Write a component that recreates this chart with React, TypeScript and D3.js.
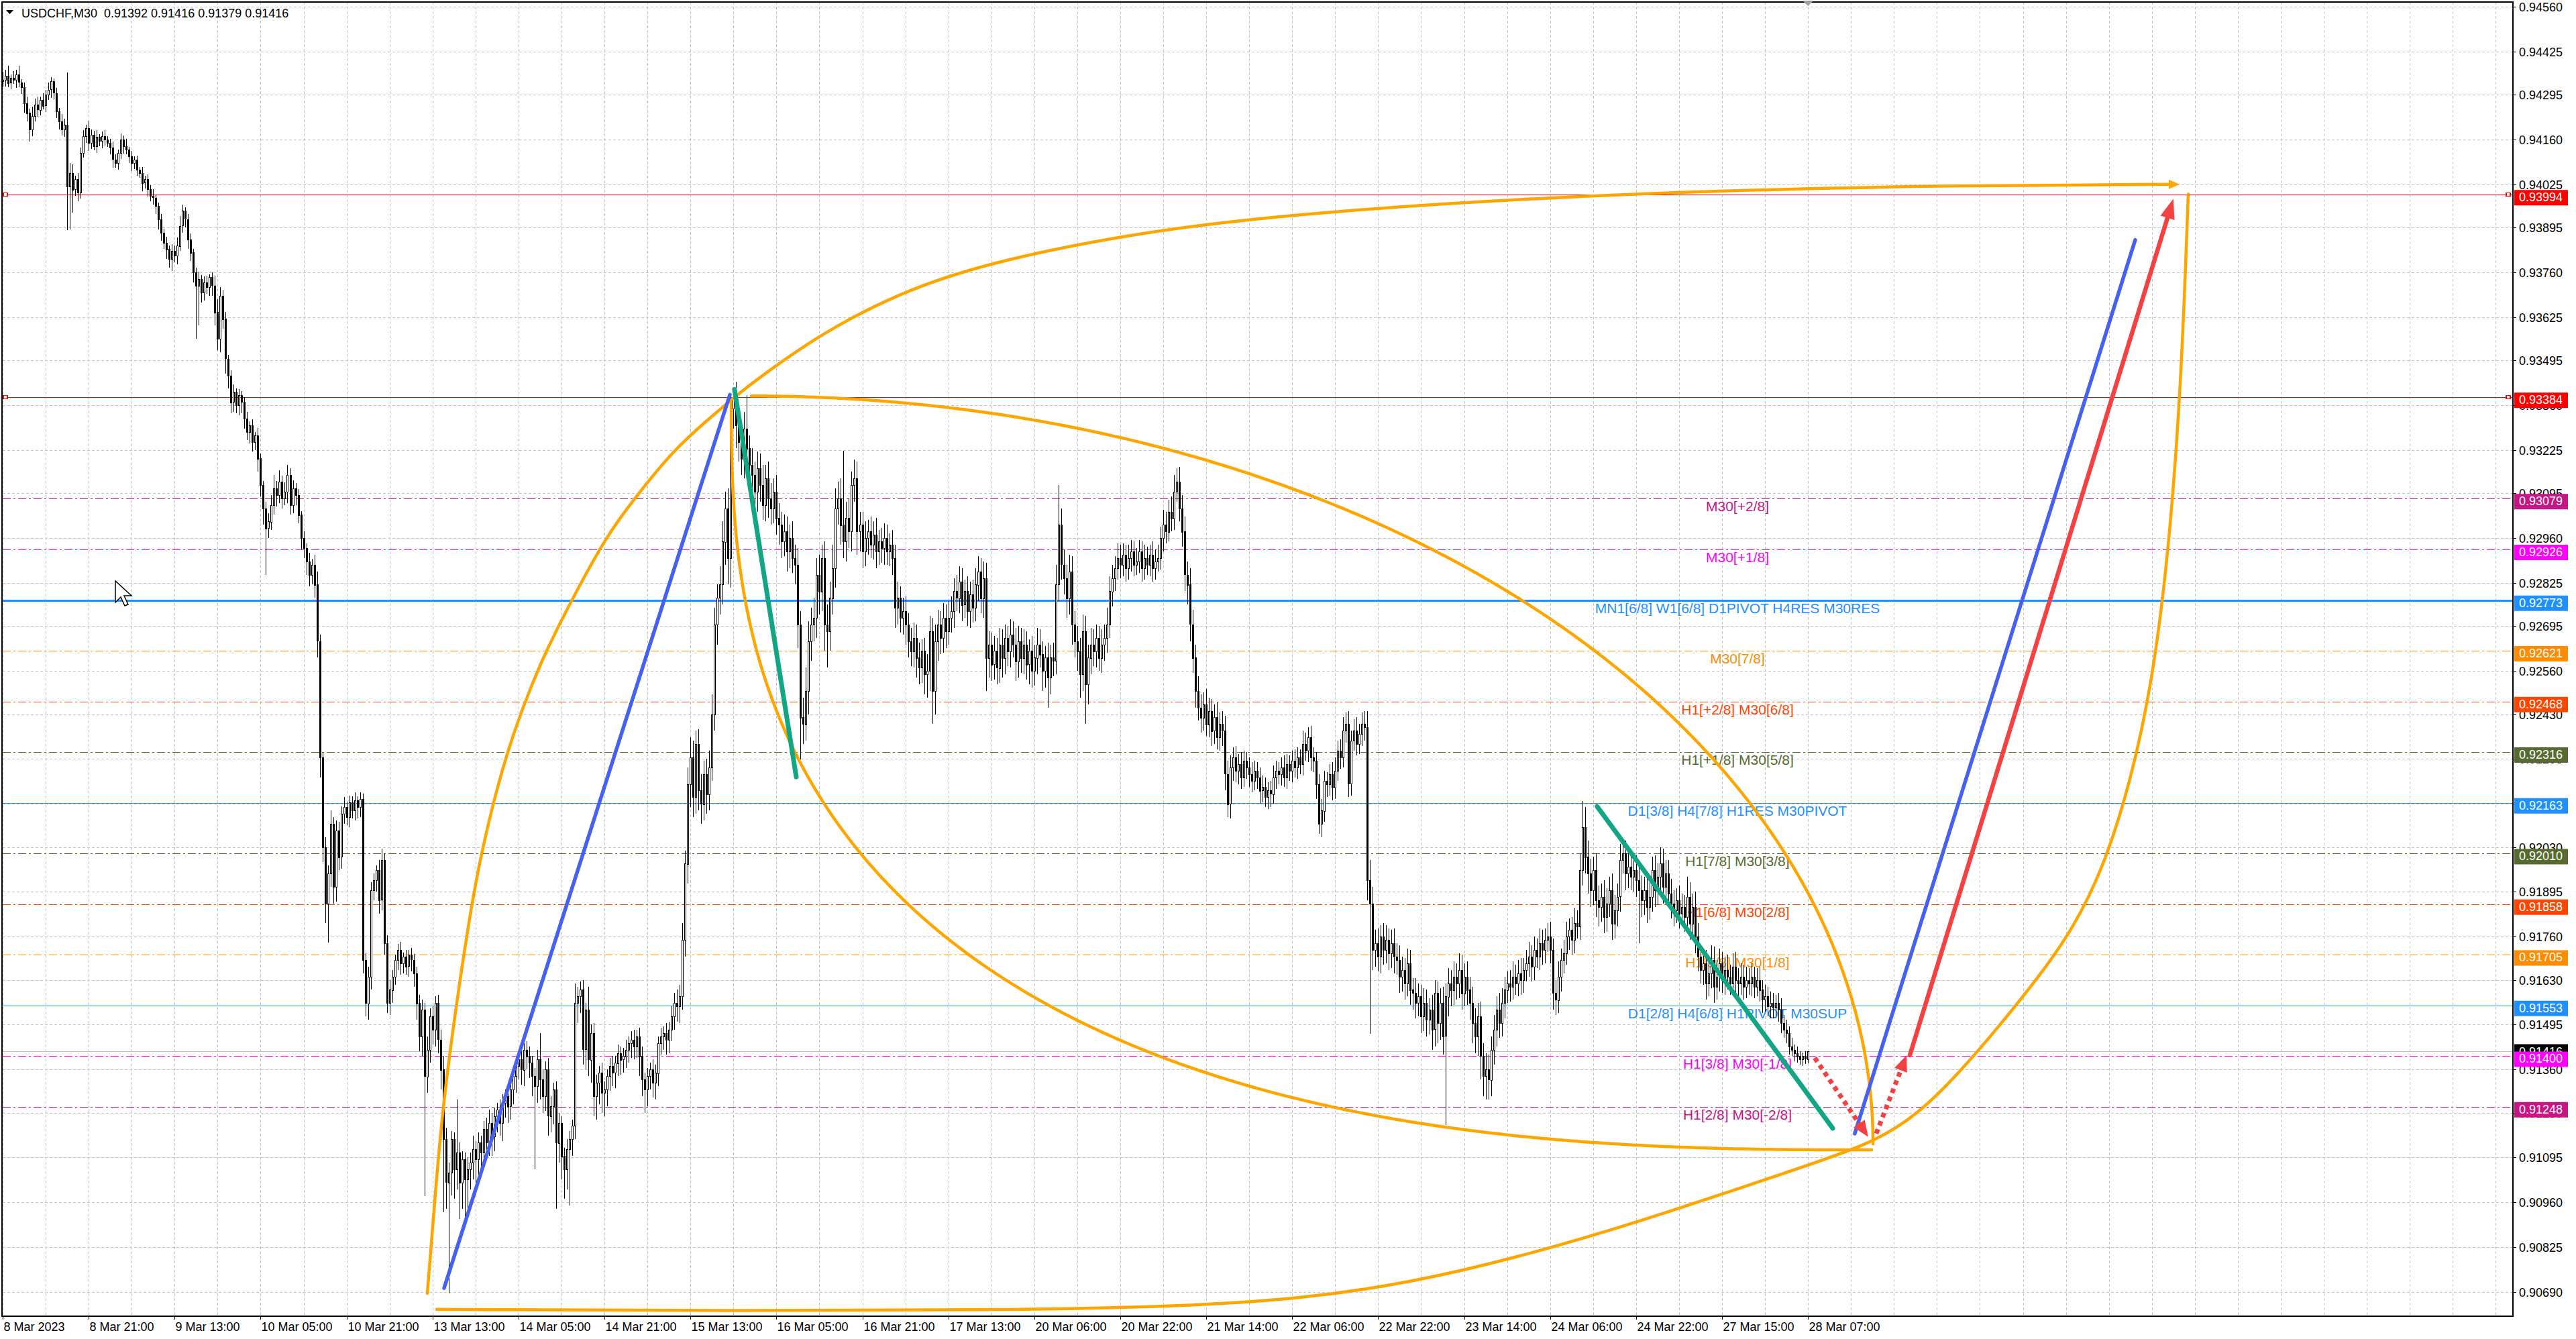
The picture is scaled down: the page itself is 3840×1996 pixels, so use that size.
import React from 'react';
import * as d3 from 'd3';

const WIDTH = 3840;
const HEIGHT = 1996;

// ---------- data ----------
const SYMBOL = 'USDCHF,M30';
const TIME_LABELS = ['8 Mar 2023','8 Mar 21:00','9 Mar 13:00','10 Mar 05:00','10 Mar 21:00','13 Mar 13:00','14 Mar 05:00','14 Mar 21:00','15 Mar 13:00','16 Mar 05:00','16 Mar 21:00','17 Mar 13:00','20 Mar 06:00','20 Mar 22:00','21 Mar 14:00','22 Mar 06:00','22 Mar 22:00','23 Mar 14:00','24 Mar 06:00','24 Mar 22:00','27 Mar 15:00','28 Mar 07:00'];
const BARS_PER_LABEL = 32;
const BARS_PER_GRID = 16;
const VISIBLE_BARS = 934.4;

const PRICE_TICKS = [0.9456,0.94425,0.94295,0.9416,0.94025,0.93895,0.9376,0.93625,0.93495,0.9336,0.93225,0.93095,0.9296,0.92825,0.92695,0.9256,0.9243,0.92295,0.9216,0.9203,0.91895,0.9176,0.9163,0.91495,0.9136,0.9123,0.91095,0.9096,0.90825,0.9069];

// closes in points above 0.90000 (1 point = 0.00001)
const FIRST_OPEN = 4335;
const CLOSE = [
4340,4352,4330,4345,4338,4355,4332,4318,4270,4240,
4190,4230,4265,4250,4280,4262,4295,4310,4335,4300,
4245,4215,4190,4205,4020,4060,4010,4040,4000,4120,
4170,4195,4150,4175,4140,4168,4155,4170,4160,4150,
4135,4100,4090,4120,4160,4140,4130,4110,4090,4100,
4070,4060,4030,4040,4010,3990,3985,3960,3920,3880,
3850,3830,3800,3825,3810,3840,3900,3945,3920,3860,
3820,3760,3720,3740,3700,3730,3715,3745,3720,3640,
3560,3690,3620,3500,3450,3370,3400,3360,3390,3370,
3320,3280,3300,3250,3270,3200,3120,3050,2990,3010,
3060,3110,3090,3130,3080,3100,3150,3060,3110,3090,
3030,2960,2930,2890,2850,2880,2820,2650,2300,2030,
1860,1950,2100,1910,2080,2000,2130,2150,2120,2165,
2140,2170,2150,2175,1690,1560,1640,1900,1930,1960,
1870,1990,1740,1560,1600,1640,1690,1720,1680,1700,
1670,1705,1690,1650,1560,1460,1540,1340,1420,1520,
1480,1560,1450,1360,1150,1020,1050,1150,1060,1110,
1020,1090,1030,1060,1080,1120,1090,1140,1110,1180,
1140,1200,1160,1220,1240,1200,1260,1280,1250,1300,
1340,1370,1390,1360,1420,1400,1380,1340,1310,1390,
1330,1280,1360,1220,1250,1300,1140,1200,1100,1060,
1120,1150,1190,1560,1580,1600,1420,1540,1390,1470,
1280,1320,1350,1290,1300,1340,1370,1350,1380,1410,
1390,1400,1420,1440,1450,1430,1460,1400,1330,1300,
1340,1360,1320,1350,1440,1460,1470,1450,1480,1520,
1560,1550,1580,1750,1980,2220,2300,2180,2340,2200,
2160,2250,2190,2270,2430,2700,2780,2820,2950,3050,
2900,3350,3380,3300,3250,3200,3290,3230,3180,3150,
3100,3170,3120,3060,3140,3080,3050,3100,3020,3000,
2950,2980,2920,2960,2900,2880,2700,2420,2400,2500,
2650,2700,2720,2850,2800,2900,2700,2680,2780,2870,
3050,3080,3000,2950,3020,2980,3120,3140,2980,3000,
2920,2960,2980,2940,2970,2920,2950,2930,2960,2920,
2940,2900,2750,2780,2720,2740,2700,2650,2620,2660,
2600,2570,2620,2550,2560,2680,2500,2650,2700,2660,
2720,2680,2720,2740,2800,2780,2830,2760,2800,2740,
2790,2750,2820,2860,2780,2840,2600,2640,2580,2620,
2570,2640,2600,2660,2620,2670,2640,2590,2650,2600,
2640,2580,2620,2560,2600,2640,2610,2560,2600,2540,
2600,2590,2820,3000,2880,2840,2780,2860,2700,2650,
2620,2550,2680,2520,2600,2640,2620,2660,2600,2640,
2660,2700,2800,2840,2870,2900,2880,2910,2870,2900,
2920,2880,2890,2920,2870,2900,2880,2910,2870,2890,
2900,2960,3000,2980,3040,3020,3100,3130,3050,2980,
2850,2820,2700,2600,2500,2450,2420,2460,2400,2440,
2380,2420,2360,2400,2380,2250,2160,2270,2300,2260,
2280,2240,2290,2270,2250,2230,2260,2240,2200,2210,
2180,2200,2190,2240,2260,2250,2270,2240,2280,2260,
2290,2270,2300,2280,2340,2320,2360,2300,2290,2220,
2100,2140,2230,2220,2250,2210,2260,2320,2300,2380,
2400,2220,2350,2380,2340,2370,2400,2390,1930,1860,
1720,1740,1700,1760,1720,1750,1710,1740,1700,1690,
1640,1660,1620,1680,1600,1590,1560,1580,1520,1560,
1510,1540,1480,1590,1500,1560,1460,1580,1620,1600,
1640,1620,1660,1590,1640,1600,1560,1500,1460,1520,
1400,1340,1360,1330,1420,1480,1540,1500,1560,1600,
1620,1610,1640,1620,1650,1630,1660,1680,1700,1670,
1720,1700,1740,1720,1750,1760,1720,1590,1570,1640,
1690,1710,1760,1780,1750,1800,1790,1960,2090,2000,
1950,1900,1960,1870,1850,1880,1820,1860,1900,1800,
1840,1880,1990,2010,1950,1970,1940,1960,1930,1900,
1870,1900,1850,1880,1960,1900,1940,1980,1910,1950,
1890,1860,1840,1870,1830,1850,1820,1880,1800,1850,
1760,1700,1660,1680,1620,1650,1690,1610,1640,1680,
1630,1660,1640,1620,1670,1630,1620,1640,1610,1630,
1620,1640,1610,1630,1600,1570,1580,1550,1560,1545,
1560,1540,1500,1480,1470,1430,1420,1410,1400,1390,
1400,1392,1416];

// wick above max(open, close), in points
const HIGH_EXT = [
25,18,30,12,22,15,28,10,14,20, 12,30,18,25,10,20,15,22,12,8,
15,10,22,18,158,30,25,12,20,15, 18,10,22,15,12,20,8,14,18,10,
12,20,15,10,18,12,22,8,15,10, 12,8,18,10,15,12,20,8,10,15,
12,18,10,20,15,25,30,20,12,15, 18,10,15,22,12,18,20,10,15,30,
40,25,18,20,12,15,22,10,18,12, 15,20,12,18,10,22,15,12,20,25,
30,40,22,35,18,28,30,20,25,15, 18,12,20,15,25,18,30,40,20,15,
30,25,40,20,30,25,22,30,15,20, 18,25,12,20,15,20,30,25,20,15,
30,36,20,25,30,20,15,18,25,12, 20,15,22,18,20,25,30,20,40,25,
30,20,25,30,40,35,30,25,20,160, 30,25,20,35,30,40,25,30,20,25,
35,40,30,25,20,30,25,20,30,25, 30,25,20,35,20,25,30,20,25,30,
80,30,25,35,30,20,25,30,20,25, 30,25,20,60,30,25,30,20,70,25,
30,25,20,30,25,20,25,30,20,25, 20,25,30,20,25,30,20,25,30,20,
25,20,30,25,20,25,20,30,25,30, 30,40,35,50,40,50,60,50,40,45,
50,40,45,50,60,50,40,55,60,50, 60,40,23,50,40,60,50,100,40,50,
40,50,45,60,40,50,45,40,50,45, 40,50,45,40,50,40,50,40,60,70,
60,50,60,50,60,40,50,60,50,70, 60,50,60,223,50,60,40,56,50,40,
40,50,35,45,40,50,35,40,45,40, 35,45,40,50,35,40,45,35,40,45,
40,45,35,40,50,45,40,50,45,40, 45,40,50,45,40,50,45,40,35,45,
40,45,50,45,40,50,45,40,35,45, 40,50,45,40,35,45,40,50,45,40,
45,40,35,45,40,50,45,40,35,45, 40,45,60,120,50,45,40,50,45,40,
45,40,50,45,40,50,45,40,35,45, 40,50,45,40,35,45,40,35,30,40,
35,30,40,35,30,40,35,30,40,35, 40,35,45,40,35,45,50,40,45,40,
45,40,50,45,40,45,40,35,45,40, 35,40,45,35,40,45,40,35,30,35,
30,35,30,25,30,35,30,25,30,35, 30,25,30,35,30,25,30,35,30,25,
30,35,30,25,40,35,30,35,30,25, 30,35,30,25,30,35,40,30,35,40,
35,40,30,35,40,30,35,40,50,60, 50,40,45,35,40,45,35,40,45,40,
45,40,35,45,40,35,45,40,35,45, 40,35,45,40,35,45,50,40,45,40,
45,40,50,45,40,45,40,50,45,40, 45,40,50,45,40,45,40,50,45,40,
35,40,45,35,40,45,35,40,45,35, 40,35,45,40,35,40,45,35,40,45,
35,40,45,35,40,45,40,50,78,60, 50,45,40,50,45,40,50,45,40,50,
45,40,50,45,40,45,40,50,45,40, 45,40,50,45,40,45,40,50,45,40,
40,45,40,35,45,40,35,60,45,40, 45,40,35,45,40,35,45,40,50,45,
35,40,45,35,40,45,35,40,35,40, 35,40,30,35,40,30,35,30,35,30,
25,30,35,25,30,20,25,15,20,15, 12,15,0];

// wick below min(open, close), in points
const LOW_EXT = [
15,20,12,18,10,22,15,20,30,25, 35,20,15,22,18,12,20,15,25,18,
20,25,18,22,133,130,70,20,25,18, 15,20,25,18,12,20,15,22,18,12,
20,25,15,20,18,22,15,20,25,18, 20,15,25,18,22,15,20,25,30,25,
20,30,25,35,20,25,15,20,25,30, 25,30,160,120,30,25,20,25,30,40,
35,40,30,45,40,35,30,25,30,35, 30,25,35,30,25,40,35,50,140,30,
25,30,35,25,30,20,35,30,25,30, 25,35,30,40,35,30,40,50,60,45,
60,117,40,50,45,40,35,30,25,30, 25,30,35,30,40,40,50,40,30,35,
40,30,35,30,35,40,25,30,35,30, 25,30,35,40,50,45,60,361,50,40,
45,50,40,60,220,80,334,70,90,60, 110,80,120,90,60,50,70,60,50,40,
50,40,60,45,50,40,55,45,50,40, 45,50,40,45,50,40,45,60,250,50,
60,50,45,60,50,55,200,60,70,90, 60,170,50,40,60,50,45,60,50,70,
60,70,65,60,70,50,45,40,45,40, 45,40,35,40,45,40,35,60,50,70,
50,40,45,50,40,35,40,45,40,35, 40,45,50,40,50,60,70,60,50,60,
60,50,60,50,40,50,60,50,60,70, 80,90,60,70,60,50,60,50,60,50,
50,60,50,45,50,60,50,45,50,60, 50,45,60,50,45,60,70,126,60,50,
70,60,50,60,70,60,80,110,60,50, 60,50,60,50,60,50,60,50,70,60,
50,45,50,40,45,50,40,45,50,40, 45,50,60,50,45,50,60,50,45,50,
60,50,45,60,70,60,100,70,60,50, 45,50,40,45,50,40,45,50,40,45,
50,45,40,50,45,60,100,60,50,45, 50,45,60,50,45,50,40,60,50,45,
50,45,60,50,45,50,40,60,50,90, 50,45,40,50,45,50,60,50,60,50,
60,70,50,120,60,50,45,50,40,45, 50,45,40,45,40,35,40,35,40,35,
40,35,30,35,40,35,30,35,40,35, 30,35,40,35,30,40,35,30,40,45,
50,60,50,45,50,40,45,40,35,40, 45,40,35,40,45,50,40,45,40,35,
40,35,30,35,40,35,30,35,40,35, 30,35,40,30,35,30,35,30,35,30,
35,30,35,30,35,30,35,40,35,45, 30,40,35,40,35,40,35,30,35,30,
35,40,35,30,35,30,35,40,60,392, 60,50,45,50,45,40,50,45,50,45,
50,45,50,40,45,50,45,40,50,45, 50,45,60,50,60,50,55,267,60,50,
45,50,45,50,40,45,50,60,50,60, 70,60,70,60,50,45,50,45,40,45,
40,45,40,35,40,45,40,35,40,45, 40,35,40,45,40,35,40,50,45,40,
45,40,35,40,45,40,35,40,45,50, 60,50,45,50,60,45,50,45,40,50,
45,50,45,40,50,45,40,45,50,160, 50,45,50,40,45,50,45,40,50,45,
40,45,50,40,45,40,45,40,50,45, 50,45,40,45,50,40,45,50,40,45,
40,45,40,35,40,45,40,35,40,35, 35,40,35,30,35,40,35,30,35,30,
30,35,30,25,30,25,20,25,20,15, 20,15,13];

// horizontal levels
const LEVEL_PRICES = [0.93994,0.93384,0.93079,0.92926,0.92773,0.92621,0.92468,0.92316,0.92163,0.9201,0.91858,0.91705,0.91553,0.914,0.91248];
const LEVEL_LABELS = ['','','M30[+2/8]','M30[+1/8]','MN1[6/8] W1[6/8] D1PIVOT H4RES M30RES','M30[7/8]','H1[+2/8] M30[6/8]','H1[+1/8] M30[5/8]','D1[3/8] H4[7/8] H1RES M30PIVOT','H1[7/8] M30[3/8]','H1[6/8] M30[2/8]','H1[5/8] M30[1/8]','D1[2/8] H4[6/8] H1PIVOT M30SUP','H1[3/8] M30[-1/8]','H1[2/8] M30[-2/8]'];
const LEVEL_COLORS = ['#FF0000','#FF0000','#C71585','#FF00FF','#1E90FF','#FF8C00','#FF4500','#556B2F','#1E90FF','#556B2F','#FF4500','#FF8C00','#1E90FF','#FF00FF','#C71585'];
const LEVEL_KIND = ['red','red','dd','dd','thick','dd','dd','dd','solid','dd','dd','dd','solid','dd','dd'];
const CURRENT_PRICE = 0.91416;

// trend lines: [bar, price] start and end
const TREND_START = [[164.3,0.90702],[689.4,0.91167],[272.4,0.93408],[593.5,0.92152],[709.9,0.91403],[674.5,0.91395],[697.4,0.91167]];
const TREND_END = [[270.7,0.93392],[793.8,0.93858],[295.4,0.92241],[681.2,0.91183],[808.0,0.93982],[694.4,0.91157],[708.7,0.91403]];
const TREND_COLORS = ['#4660F0','#4660F0','#13A685','#13A685','#F44242','#F44242','#F44242'];
const TREND_WIDTHS = [5.5,5.5,7,7,6.5,7,7];
const TREND_DOTTED = [false,false,false,false,false,true,true];
const TREND_ARROW = [false,false,false,false,true,true,true];

// outer orange curves: [bar, price]
const CURVE_UPPER = [[158.07,0.90686],[160.81,0.90965],[163.81,0.91252],[169.3,0.91583],[176.04,0.91938],[182.78,0.92171],[189.28,0.92358],[200.76,0.92601],[213.75,0.92803],[225.24,0.92974],[238.72,0.93116],[249.71,0.93223],[261.19,0.93308],[272.43,0.93385],[281.92,0.93445],[304.64,0.93576],[333.61,0.93698],[365.82,0.93788],[423.5,0.93883],[488.17,0.93944],[610.53,0.94003],[732.89,0.94023],[807.3,0.94025]];
const CURVE_LOWER = [[161.56,0.90638],[273.68,0.90633],[383.3,0.90636],[442.98,0.90648],[485.93,0.90672],[523.39,0.90718],[560.85,0.90787],[610.53,0.90904],[660.73,0.91042],[696.18,0.91136],[713.16,0.91227],[728.14,0.91349],[743.13,0.9149],[758.11,0.91641],[770.59,0.91783],[781.83,0.91965],[791.82,0.92217],[800.56,0.9254],[806.8,0.92964],[811.05,0.93449],[813.54,0.93996]];

// inner orange quadrant arcs: side point (same price as centre), pole point (same bar as centre), squareness
const ARC_SIDE = [[696.2,0.91136],[271.2,0.93368]];
const ARC_POLE = [[278.7,0.93388],[695.7,0.91118]];
const ARC_EXP = [2.0,2.6];

// ---------- layout ----------
const PLOT_L = 4, PLOT_R = 3746, PLOT_T = 3, PLOT_B = 1962;
const LABEL_X = 2590;
const FONT = "'Liberation Sans', Arial, sans-serif";

export default function App() {
  const x = d3.scaleLinear().domain([0, VISIBLE_BARS]).range([PLOT_L, PLOT_R]);
  const y = d3.scaleLinear().domain([0.9069, 0.9456]).range([1926, 10]);
  const toP = (v: number) => (90000 + v) / 100000;
  const fmt = (p: number) => p.toFixed(5);

  const candles = CLOSE.map((c, i) => {
    const o = i === 0 ? FIRST_OPEN : CLOSE[i - 1];
    return { i, o, c, hi: Math.max(o, c) + HIGH_EXT[i], lo: Math.min(o, c) - LOW_EXT[i] };
  });
  const last = candles[candles.length - 1];

  const gridXs = d3.range(0, VISIBLE_BARS, BARS_PER_GRID).map((b) => Math.round(x(b)) + 0.5);
  const line = d3.line();
  const smooth = d3.line<number[]>().x((d) => x(d[0])).y((d) => y(d[1])).curve(d3.curveBasis);

  const arcPath = (k: number) => {
    const sx = x(ARC_SIDE[k][0]), sy = y(ARC_SIDE[k][1]);
    const px = x(ARC_POLE[k][0]), py = y(ARC_POLE[k][1]);
    const cx = px, cy = sy, n = ARC_EXP[k];
    const pts = d3.range(0, 401).map((j) => {
      const t = (j / 400) * Math.PI / 2;
      const c = Math.pow(Math.cos(t), 2 / n);
      const s = Math.pow(Math.sin(t), 2 / n);
      return [cx + (sx - cx) * c, cy + (py - cy) * s] as [number, number];
    });
    return line(pts) as string;
  };

  const arrowHead = (x1: number, y1: number, x2: number, y2: number, len: number, half: number) => {
    const dx = x2 - x1, dy = y2 - y1;
    const L = Math.hypot(dx, dy);
    const ux = dx / L, uy = dy / L;
    const bx = x2 - ux * len, by = y2 - uy * len;
    return `${x2},${y2} ${bx - uy * half},${by + ux * half} ${bx + uy * half},${by - ux * half}`;
  };

  const upEnd = CURVE_UPPER[CURVE_UPPER.length - 1];

  return (
    <svg width={WIDTH} height={HEIGHT} style={{ position: 'absolute', left: 0, top: 0, display: 'block', background: '#fff' }}>
      <rect x={0} y={0} width={WIDTH} height={HEIGHT} fill="#fff" />
      {/* grid */}
      <g stroke="#C4C4C4" strokeWidth={1} strokeDasharray="4 3" shapeRendering="crispEdges">
        {gridXs.map((gx, k) => (
          <line key={'gx' + k} x1={gx} x2={gx} y1={PLOT_T} y2={PLOT_B} />
        ))}
        {PRICE_TICKS.map((p, k) => (
          <line key={'gy' + k} x1={PLOT_L} x2={PLOT_R} y1={Math.round(y(p)) + 0.5} y2={Math.round(y(p)) + 0.5} />
        ))}
      </g>

      {/* level lines */}
      <g shapeRendering="crispEdges">
        {LEVEL_PRICES.map((p, k) => {
          const ly = Math.round(y(p)) + 0.5;
          const kind = LEVEL_KIND[k];
          return (
            <line key={'lv' + k} x1={PLOT_L} x2={PLOT_R} y1={ly} y2={ly} stroke={LEVEL_COLORS[k]}
              strokeWidth={kind === 'thick' ? 2.5 : kind === 'solid' ? 1.5 : kind === 'red' ? 1.2 : 1.5}
              strokeDasharray={kind === 'dd' ? '12 4 3 4' : undefined} />
          );
        })}
        <line x1={PLOT_L} x2={PLOT_R} y1={Math.round(y(CURRENT_PRICE)) + 0.5} y2={Math.round(y(CURRENT_PRICE)) + 0.5} stroke="#C0C0C0" strokeWidth={1.5} />
        {LEVEL_PRICES.map((p, k) => LEVEL_KIND[k] === 'red' ? (
          <g key={'sq' + k}>
            <rect x={5} y={y(p) - 2.5} width={6} height={5} fill="#fff" stroke="#FF0000" strokeWidth={1.2} />
            <rect x={3736} y={y(p) - 2.5} width={6} height={5} fill="#fff" stroke="#FF0000" strokeWidth={1.2} />
          </g>
        ) : null)}
      </g>

      {/* level texts */}
      <g fontFamily={FONT} fontSize={21} textAnchor="middle">
        {LEVEL_PRICES.map((p, k) => LEVEL_LABELS[k] ? (
          <text key={'lt' + k} x={LABEL_X} y={y(p) + 19} fill={LEVEL_COLORS[k]}>{LEVEL_LABELS[k]}</text>
        ) : null)}
      </g>

      {/* candles */}
      <g shapeRendering="crispEdges">
        {candles.map((d) => {
          const cx = Math.round(x(d.i)) + 0.5;
          const yo = y(toP(d.o)), yc = y(toP(d.c));
          const top = Math.round(Math.min(yo, yc)) + 0.5;
          const h = Math.max(0, Math.round(Math.abs(yo - yc)));
          const bull = d.c > d.o;
          return (
            <g key={'c' + d.i}>
              <line x1={cx} x2={cx} y1={y(toP(d.hi))} y2={y(toP(d.lo))} stroke="#000" strokeWidth={1} />
              {h < 1 ? (
                <line x1={cx - 1.5} x2={cx + 1.5} y1={top} y2={top} stroke="#000" strokeWidth={1} />
              ) : (
                <rect x={cx - 1} y={top} width={2} height={h} fill={bull ? '#fff' : '#000'} stroke="#000" strokeWidth={1} />
              )}
            </g>
          );
        })}
      </g>

      {/* orange curves */}
      <g fill="none" stroke="#FFA500" strokeWidth={4.5} strokeLinecap="round">
        <path d={smooth(CURVE_UPPER) as string} />
        <path d={smooth(CURVE_LOWER) as string} />
        {ARC_SIDE.map((_, k) => <path key={'arc' + k} d={arcPath(k)} />)}
      </g>
      <polygon fill="#FFA500"
        points={arrowHead(x(upEnd[0]) - 10, y(upEnd[1]), x(upEnd[0]) + 12, y(upEnd[1]), 16, 7)} />

      {/* trend lines */}
      {TREND_START.map((s, k) => {
        const x1 = x(s[0]), y1 = y(s[1]);
        const x2 = x(TREND_END[k][0]), y2 = y(TREND_END[k][1]);
        const alen = TREND_DOTTED[k] ? 24 : 30;
        let ex = x2, ey = y2;
        if (TREND_ARROW[k]) {
          const L = Math.hypot(x2 - x1, y2 - y1);
          ex = x2 - ((x2 - x1) / L) * (alen - 4);
          ey = y2 - ((y2 - y1) / L) * (alen - 4);
        }
        return (
          <g key={'tr' + k}>
            <line x1={x1} y1={y1} x2={ex} y2={ey} stroke={TREND_COLORS[k]} strokeWidth={TREND_WIDTHS[k]}
              strokeLinecap={TREND_DOTTED[k] ? 'butt' : 'round'} strokeDasharray={TREND_DOTTED[k] ? '7 6' : undefined} />
            {TREND_ARROW[k] ? (
              <polygon points={arrowHead(x1, y1, x2, y2, alen, TREND_DOTTED[k] ? 10 : 11)} fill={TREND_COLORS[k]} />
            ) : null}
          </g>
        );
      })}

      {/* frame */}
      <g shapeRendering="crispEdges" stroke="#000" strokeWidth={1.5} fill="none">
        <rect x={3} y={3} width={PLOT_R - 3} height={PLOT_B - 3} />
      </g>
      <polygon points={`${x(672) - 8},1 ${x(672) + 8},1 ${x(672)},9`} fill="#A0A0A0" />

      {/* title */}
      <polygon points="9,15 20,15 14.5,21" fill="#000" />
      <text x={32} y={26} fontFamily={FONT} fontSize={18} fill="#000" style={{ whiteSpace: 'pre' }}>
        {`${SYMBOL}  ${fmt(toP(last.o))} ${fmt(toP(last.hi))} ${fmt(toP(last.lo))} ${fmt(toP(last.c))}`}
      </text>

      {/* price axis */}
      <g fontFamily={FONT} fontSize={18} fill="#000">
        {PRICE_TICKS.map((p, k) => (
          <g key={'pt' + k}>
            <line x1={PLOT_R} x2={PLOT_R + 5} y1={Math.round(y(p)) + 0.5} y2={Math.round(y(p)) + 0.5} stroke="#000" strokeWidth={1} shapeRendering="crispEdges" />
            <text x={3755} y={y(p) + 7}>{fmt(p)}</text>
          </g>
        ))}
      </g>
      <g fontFamily={FONT} fontSize={18} fill="#fff">
        <rect x={3748} y={y(CURRENT_PRICE) - 10} width={80} height={23} fill="#000" />
        <text x={3755} y={y(CURRENT_PRICE) + 7}>{fmt(CURRENT_PRICE)}</text>
        {LEVEL_PRICES.map((p, k) => (
          <g key={'pb' + k}>
            <rect x={3748} y={y(p) - 7} width={80} height={23} fill={LEVEL_COLORS[k]} />
            <text x={3755} y={y(p) + 10}>{fmt(p)}</text>
          </g>
        ))}
      </g>

      {/* time axis */}
      <g fontFamily={FONT} fontSize={18} fill="#000">
        {TIME_LABELS.map((t, k) => {
          const tx = Math.round(x(k * BARS_PER_LABEL)) + 0.5;
          return (
            <g key={'tl' + k}>
              <line x1={tx} x2={tx} y1={PLOT_B} y2={PLOT_B + 5} stroke="#000" strokeWidth={1} shapeRendering="crispEdges" />
              <text x={tx + 1} y={1984}>{t}</text>
            </g>
          );
        })}
      </g>

      {/* mouse cursor */}
      <polygon points="172,866 172,898 180,890 186,903 191,901 185,888 196,888" fill="#fff" stroke="#000" strokeWidth={1.5} />
    </svg>
  );
}
